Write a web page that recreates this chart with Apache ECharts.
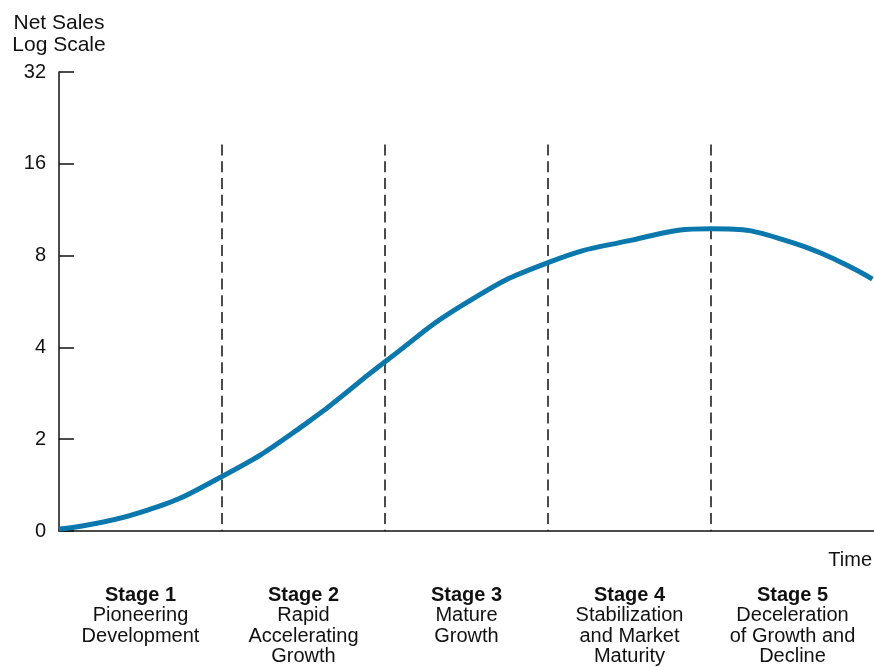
<!DOCTYPE html>
<html>
<head>
<meta charset="utf-8">
<title>Net Sales Life Cycle</title>
<script src="https://cdn.jsdelivr.net/npm/echarts@6/dist/echarts.min.js"></script>
<style>
  html, body { margin: 0; padding: 0; background: #fff; }
  #chart { width: 874px; height: 667px; }
</style>
</head>
<body>
<div id="chart"></div>
<script>
// time measured in stages (0 = start, 5 = end of stage 5)
var timeX = [0, 0.5, 1.0, 1.5, 2.0, 2.5, 3.0, 3.5, 4.0, 4.5, 4.99];
// net sales (bottom "0" line = 1)
var netSales = [1.015, 1.15, 1.51, 2.22, 3.59, 5.61, 7.59, 8.96, 9.8, 8.82, 6.7];
var stageBounds = [1, 2, 3, 4];
var stageTitles = ["Stage 1", "Stage 2", "Stage 3", "Stage 4", "Stage 5"];
var stageNames = [
  "Pioneering\nDevelopment",
  "Rapid\nAccelerating\nGrowth",
  "Mature\nGrowth",
  "Stabilization\nand Market\nMaturity",
  "Deceleration\nof Growth and\nDecline"
];
var yTicks = [1, 2, 4, 8, 16, 32];
var yTickLabels = ["0", "2", "4", "8", "16", "32"];

var font = "Liberation Sans, Arial, Helvetica, sans-serif";
var ink = "#111111";

var chart = echarts.init(document.getElementById("chart"));

var pts = timeX.map(function (x, i) { return [x, netSales[i]]; });
// dashed stage dividers, drawn from the top down
var dashLines = stageBounds.map(function (b) {
  return [{ coord: [b, 18.5] }, { coord: [b, 1] }];
});

chart.setOption({
  backgroundColor: "#FFFFFF",
  animation: false,
  title: {
    text: "Time",
    right: 2,
    top: 550,
    padding: 0,
    textStyle: { fontFamily: font, fontSize: 20, fontWeight: "normal", color: ink }
  },
  grid: { left: 59, right: 0, top: 72, bottom: 135, containLabel: false },
  xAxis: [{
    type: "category",
    data: stageTitles,
    boundaryGap: true,
    axisLine: { lineStyle: { color: ink, width: 1.5 } },
    axisTick: { show: false },
    axisLabel: {
      interval: 0,
      margin: 54,
      hideOverlap: false,
      fontFamily: font,
      fontSize: 20,
      lineHeight: 20.5,
      color: ink,
      formatter: function (v, i) {
        return "{b|" + v + "}\n" + stageNames[i];
      },
      rich: {
        b: { fontFamily: font, fontSize: 20, fontWeight: "bold", lineHeight: 20.5, color: ink }
      }
    },
    splitLine: { show: false }
  }, {
    type: "value",
    min: 0,
    max: 5,
    position: "bottom",
    show: false
  }],
  yAxis: {
    type: "log",
    logBase: 2,
    min: 1,
    max: 32,
    name: "Net Sales\nLog Scale",
    nameLocation: "end",
    nameGap: 16,
    nameTextStyle: { fontFamily: font, fontSize: 21, lineHeight: 22, color: ink, align: "center" },
    axisLine: { show: true, lineStyle: { color: ink, width: 1.5 } },
    axisTick: { show: true, inside: true, length: 15, lineStyle: { color: ink, width: 1.5 } },
    axisLabel: {
      margin: 13,
      fontFamily: font,
      fontSize: 20,
      color: ink,
      formatter: function (v) {
        var k = yTicks.indexOf(Math.round(v));
        return k >= 0 ? yTickLabels[k] : "";
      }
    },
    splitLine: { show: false }
  },
  series: [{
    name: "Net Sales",
    type: "line",
    xAxisIndex: 1,
    data: pts,
    smooth: 0.5,
    showSymbol: false,
    lineStyle: { color: "#0a78ad", width: 5 },
    z: 3,
    markLine: {
      silent: true,
      symbol: "none",
      label: { show: false },
      lineStyle: { color: ink, type: [11, 5.75], width: 1.5 },
      z: 2,
      data: dashLines
    }
  }]
});
</script>
</body>
</html>
